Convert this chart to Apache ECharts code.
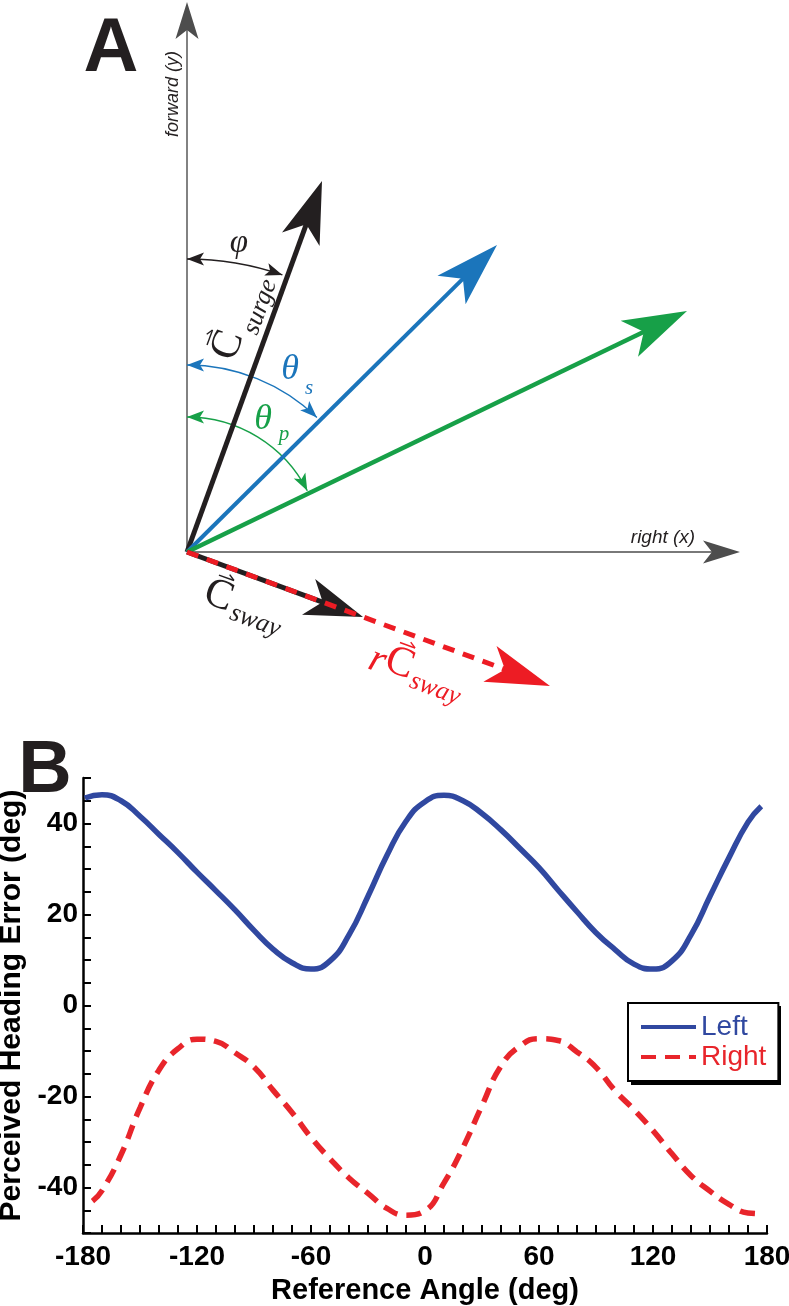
<!DOCTYPE html>
<html>
<head>
<meta charset="utf-8">
<script src="https://cdn.jsdelivr.net/npm/echarts@6/dist/echarts.min.js"></script>
<style>
html, body { margin: 0; padding: 0; background: #fff; }
#chart { width: 789px; height: 1306px; }
</style>
</head>
<body>
<div id="chart"></div>
<script>
// panel A - vector diagram, units are px from the origin, y pointing up
const axisTips = [[0, 550], [553, 0]]; // forward (y), right (x)
const vectorTips = [[135, 371], [310, 307], [500, 241], [176, -65], [363, -134]]; // C surge, theta s, theta p, C sway, rC sway
const arcSpans = [[90, 71], [90, 46], [90, 27]]; // phi, theta s, theta p (deg)
const arcRadii = [293, 187, 135];

// panel B - perceived heading error
const leftAngle = [-179, -170, -160, -150, -140, -130, -120, -110, -100, -90, -80, -70, -60, -50, -40, -30, -20, -10,
    0, 10, 20, 30, 40, 50, 60, 70, 80, 90, 100, 110, 120, 130, 140, 150, 160, 170, 177];
const leftError = [45.6, 46.3, 45.0, 41.6, 37.6, 33.6, 29.3, 25.2, 21.0, 16.5, 12.4, 9.4, 8.0, 9.8, 15.5, 24.0, 33.0, 40.5,
    44.8, 46.2, 45.0, 42.2, 38.6, 34.5, 30.3, 25.4, 20.6, 16.0, 12.3, 9.1, 8.0, 9.8, 15.5, 24.0, 32.5, 40.3, 43.8];
const rightAngle = [-175, -170, -160, -150, -140, -130, -120, -110, -100, -90, -80, -70, -60, -50, -40, -30, -20, -10,
    0, 10, 20, 30, 40, 50, 60, 70, 80, 90, 100, 110, 120, 130, 140, 150, 160, 170, 178];
const rightError = [-43.0, -40.7, -32.8, -22.5, -14.2, -9.5, -7.4, -7.9, -10.4, -13.5, -18.6, -23.5, -29.0, -33.7, -37.9, -41.3, -44.6, -46.1,
    -45.1, -39.0, -31.2, -22.0, -13.3, -8.9, -7.3, -7.7, -10.2, -13.6, -18.7, -22.9, -27.5, -32.6, -37.4, -40.8, -43.7, -45.6, -45.8];
const xTicks = [-180, -120, -60, 0, 60, 120, 180];
const yTicks = [-40, -20, 0, 20, 40];

const BLACK = "#231f20";
const BLUE = "#1b75bb";
const GREEN = "#17a048";
const RED = "#ed1c24";
const LEFT_C = "#3048a0";
const RIGHT_C = "#e8252b";

const axisStyle = { color: "#4d4d4d", width: 1.4, head: [37, 11.5, 9] };
const vecStyles = [
    { color: BLACK, width: 5, head: [62, 20, 16] },
    { color: BLUE, width: 4, head: [64, 20, 16] },
    { color: GREEN, width: 4.5, head: [64, 20, 16] },
    { color: BLACK, width: 5, head: [58, 19, 15] },
    { color: RED, width: 5, head: [64, 19, 16], dash: [12, 9] },
];
const arcColors = [BLACK, BLUE, GREEN];

function headPoints(tip, ux, uy, len, half, notch) {
    const nx = -uy, ny = ux;
    return [
        tip,
        [tip[0] - ux * len + nx * half, tip[1] - uy * len + ny * half],
        [tip[0] - ux * (len - notch), tip[1] - uy * (len - notch)],
        [tip[0] - ux * len - nx * half, tip[1] - uy * len - ny * half],
    ];
}

function arrowItem(api, s) {
    const o = api.coord([0, 0]);
    const t = api.coord([api.value(0), api.value(1)]);
    const dx = t[0] - o[0], dy = t[1] - o[1];
    const L = Math.hypot(dx, dy), ux = dx / L, uy = dy / L;
    const [len, half, notch] = s.head;
    const back = len - notch - 2;
    return {
        type: "group",
        children: [
            {
                type: "line",
                shape: { x1: o[0], y1: o[1], x2: t[0] - ux * back, y2: t[1] - uy * back },
                style: { stroke: s.color, lineWidth: s.width, lineDash: s.dash || null, lineCap: "butt" },
            },
            {
                type: "polygon",
                shape: { points: headPoints(t, ux, uy, len, half, notch) },
                style: { fill: s.color },
            },
        ],
    };
}

function arcItem(params, api) {
    const color = arcColors[params.dataIndex];
    const o = api.coord([0, 0]);
    const r = api.coord([api.value(2), 0])[0] - o[0];
    const a0 = api.value(0) * Math.PI / 180;
    const a1 = api.value(1) * Math.PI / 180;
    const p0 = [o[0] + r * Math.cos(a0), o[1] - r * Math.sin(a0)];
    const p1 = [o[0] + r * Math.cos(a1), o[1] - r * Math.sin(a1)];
    return {
        type: "group",
        children: [
            {
                type: "arc",
                shape: { cx: o[0], cy: o[1], r: r, startAngle: -a0, endAngle: -a1, clockwise: true },
                style: { stroke: color, fill: null, lineWidth: 1.4 },
            },
            {
                type: "polygon",
                shape: { points: headPoints(p0, -Math.sin(a0), -Math.cos(a0), 17, 6.5, 4) },
                style: { fill: color },
            },
            {
                type: "polygon",
                shape: { points: headPoints(p1, Math.sin(a1), Math.cos(a1), 17, 6.5, 4) },
                style: { fill: color },
            },
        ],
    };
}

function txt(x, y, text, font, fill, extra) {
    return Object.assign({
        type: "text", x: x, y: y, z: 20,
        style: {
            text: text, font: font, fill: fill,
            align: "center", textAlign: "center",
            verticalAlign: "middle", textVerticalAlign: "middle",
        },
    }, extra || {});
}

function vecArrowMark(x1, x2, y, color) {
    return [
        { type: "line", z: 20, shape: { x1: x1, y1: y, x2: x2, y2: y }, style: { stroke: color, lineWidth: 1.4 } },
        { type: "line", z: 20, shape: { x1: x2, y1: y, x2: x2 - 6, y2: y - 4 }, style: { stroke: color, lineWidth: 1.4 } },
    ];
}

const serif = '"Liberation Serif", "DejaVu Serif", serif';
const sans = '"Liberation Sans", Arial, sans-serif';

const graphic = [
    txt(111, 50, "A", "bold 76px " + sans, BLACK),
    txt(45, 772, "B", "bold 74px " + sans, BLACK),
    txt(173, 94, "forward (y)", "italic 18px " + sans, BLACK, { rotation: Math.PI / 2 }),
    txt(663, 538, "right (x)", "italic 19px " + sans, BLACK),
    txt(239, 243, "\u03c6", "italic 33px " + serif, BLACK),
    txt(290, 370, "\u03b8", "italic 36px " + serif, BLUE),
    txt(309, 388, "s", "italic 21px " + serif, BLUE),
    txt(263, 420, "\u03b8", "italic 36px " + serif, GREEN),
    txt(284, 434, "p", "italic 21px " + serif, GREEN),
    {
        type: "group", x: 236, y: 362, rotation: 70 * Math.PI / 180,
        children: [
            txt(13, -13, "C", "42px " + serif, BLACK),
            txt(60, 4, "surge", "italic 26px " + serif, BLACK),
        ].concat(vecArrowMark(6, 22, -33, BLACK)),
    },
    {
        type: "group", x: 202, y: 604, rotation: -20 * Math.PI / 180,
        children: [
            txt(13, -13, "C", "42px " + serif, BLACK),
            txt(56, -2, "sway", "italic 26px " + serif, BLACK),
        ].concat(vecArrowMark(6, 22, -33, BLACK)),
    },
    {
        type: "group", x: 368, y: 666, rotation: -20 * Math.PI / 180,
        children: [
            txt(7, -8, "r", "italic 40px " + serif, RED),
            txt(29, -13, "C", "42px " + serif, RED),
            txt(71, -1, "sway", "italic 26px " + serif, RED),
        ].concat(vecArrowMark(22, 38, -33, RED)),
    },
    // drop shadow behind the legend box
    { type: "rect", z: 1, shape: { x: 631, y: 1006, width: 150, height: 79 }, style: { fill: "#000" } },
];

const chart = echarts.init(document.getElementById("chart"));
chart.setOption({
    animation: false,
    backgroundColor: "#fff",
    textStyle: { fontFamily: sans },
    grid: [
        { left: 0, top: 0, width: 789, height: 701, outerBoundsMode: "none", containLabel: false },
        { left: 83, top: 778, width: 684, height: 455, outerBoundsMode: "none", containLabel: false },
    ],
    xAxis: [
        { gridIndex: 0, type: "value", min: -187, max: 602, show: false },
        {
            gridIndex: 1, type: "value", min: -180, max: 180, interval: 10,
            axisLine: { onZero: false, lineStyle: { color: "#000", width: 2.5 } },
            axisTick: { inside: true, length: 8, lineStyle: { color: "#000", width: 2 } },
            splitLine: { show: false },
            axisLabel: {
                margin: 10, color: "#000", fontSize: 28, fontWeight: "bold",
                formatter: (v) => (xTicks.indexOf(v) >= 0 ? String(v) : ""),
            },
            name: "Reference Angle (deg)", nameLocation: "middle", nameGap: 43,
            nameTextStyle: { color: "#000", fontSize: 29, fontWeight: "bold" },
        },
    ],
    yAxis: [
        { gridIndex: 0, type: "value", min: -149, max: 552, show: false },
        {
            gridIndex: 1, type: "value", min: -50, max: 50, interval: 5,
            axisLine: { show: true, onZero: false, lineStyle: { color: "#000", width: 2.5 } },
            axisTick: { show: true, inside: true, length: 8, lineStyle: { color: "#000", width: 2 } },
            splitLine: { show: false },
            axisLabel: {
                margin: 5, color: "#000", fontSize: 28, fontWeight: "bold",
                formatter: (v) => (yTicks.indexOf(v) >= 0 ? String(v) : ""),
            },
            name: "Perceived Heading Error (deg)", nameLocation: "middle", nameGap: 51,
            nameTextStyle: { color: "#000", fontSize: 30, fontWeight: "bold" },
        },
    ],
    legend: {
        orient: "vertical", left: 628, top: 1003,
        itemWidth: 55, itemHeight: 14, itemGap: 2,
        padding: [10, 12, 10, 11],
        borderColor: "#000", borderWidth: 2, backgroundColor: "#fff",
        itemStyle: { opacity: 0 },
        lineStyle: { width: 4 },
        textStyle: { fontSize: 28, fontFamily: sans },
        data: [
            { name: "Left", textStyle: { color: LEFT_C } },
            { name: "Right", textStyle: { color: RIGHT_C } },
        ],
    },
    graphic: graphic,
    series: [
        {
            type: "custom", xAxisIndex: 0, yAxisIndex: 0, silent: true,
            data: axisTips,
            renderItem: (params, api) => arrowItem(api, axisStyle),
        },
        {
            type: "custom", xAxisIndex: 0, yAxisIndex: 0, silent: true,
            data: arcSpans.map((s, i) => [s[0], s[1], arcRadii[i]]),
            renderItem: arcItem,
        },
        {
            type: "custom", xAxisIndex: 0, yAxisIndex: 0, silent: true,
            data: vectorTips,
            renderItem: (params, api) => arrowItem(api, vecStyles[params.dataIndex]),
        },
        {
            name: "Left", type: "line", xAxisIndex: 1, yAxisIndex: 1,
            data: leftAngle.map((a, i) => [a, leftError[i]]),
            smooth: true, showSymbol: false, symbol: "none",
            lineStyle: { color: LEFT_C, width: 5.5 },
            itemStyle: { color: LEFT_C },
        },
        {
            name: "Right", type: "line", xAxisIndex: 1, yAxisIndex: 1,
            data: rightAngle.map((a, i) => [a, rightError[i]]),
            smooth: true, showSymbol: false, symbol: "none",
            lineStyle: { color: RIGHT_C, width: 5.5, type: [15, 9] },
            itemStyle: { color: RIGHT_C },
        },
    ],
});
</script>
</body>
</html>
